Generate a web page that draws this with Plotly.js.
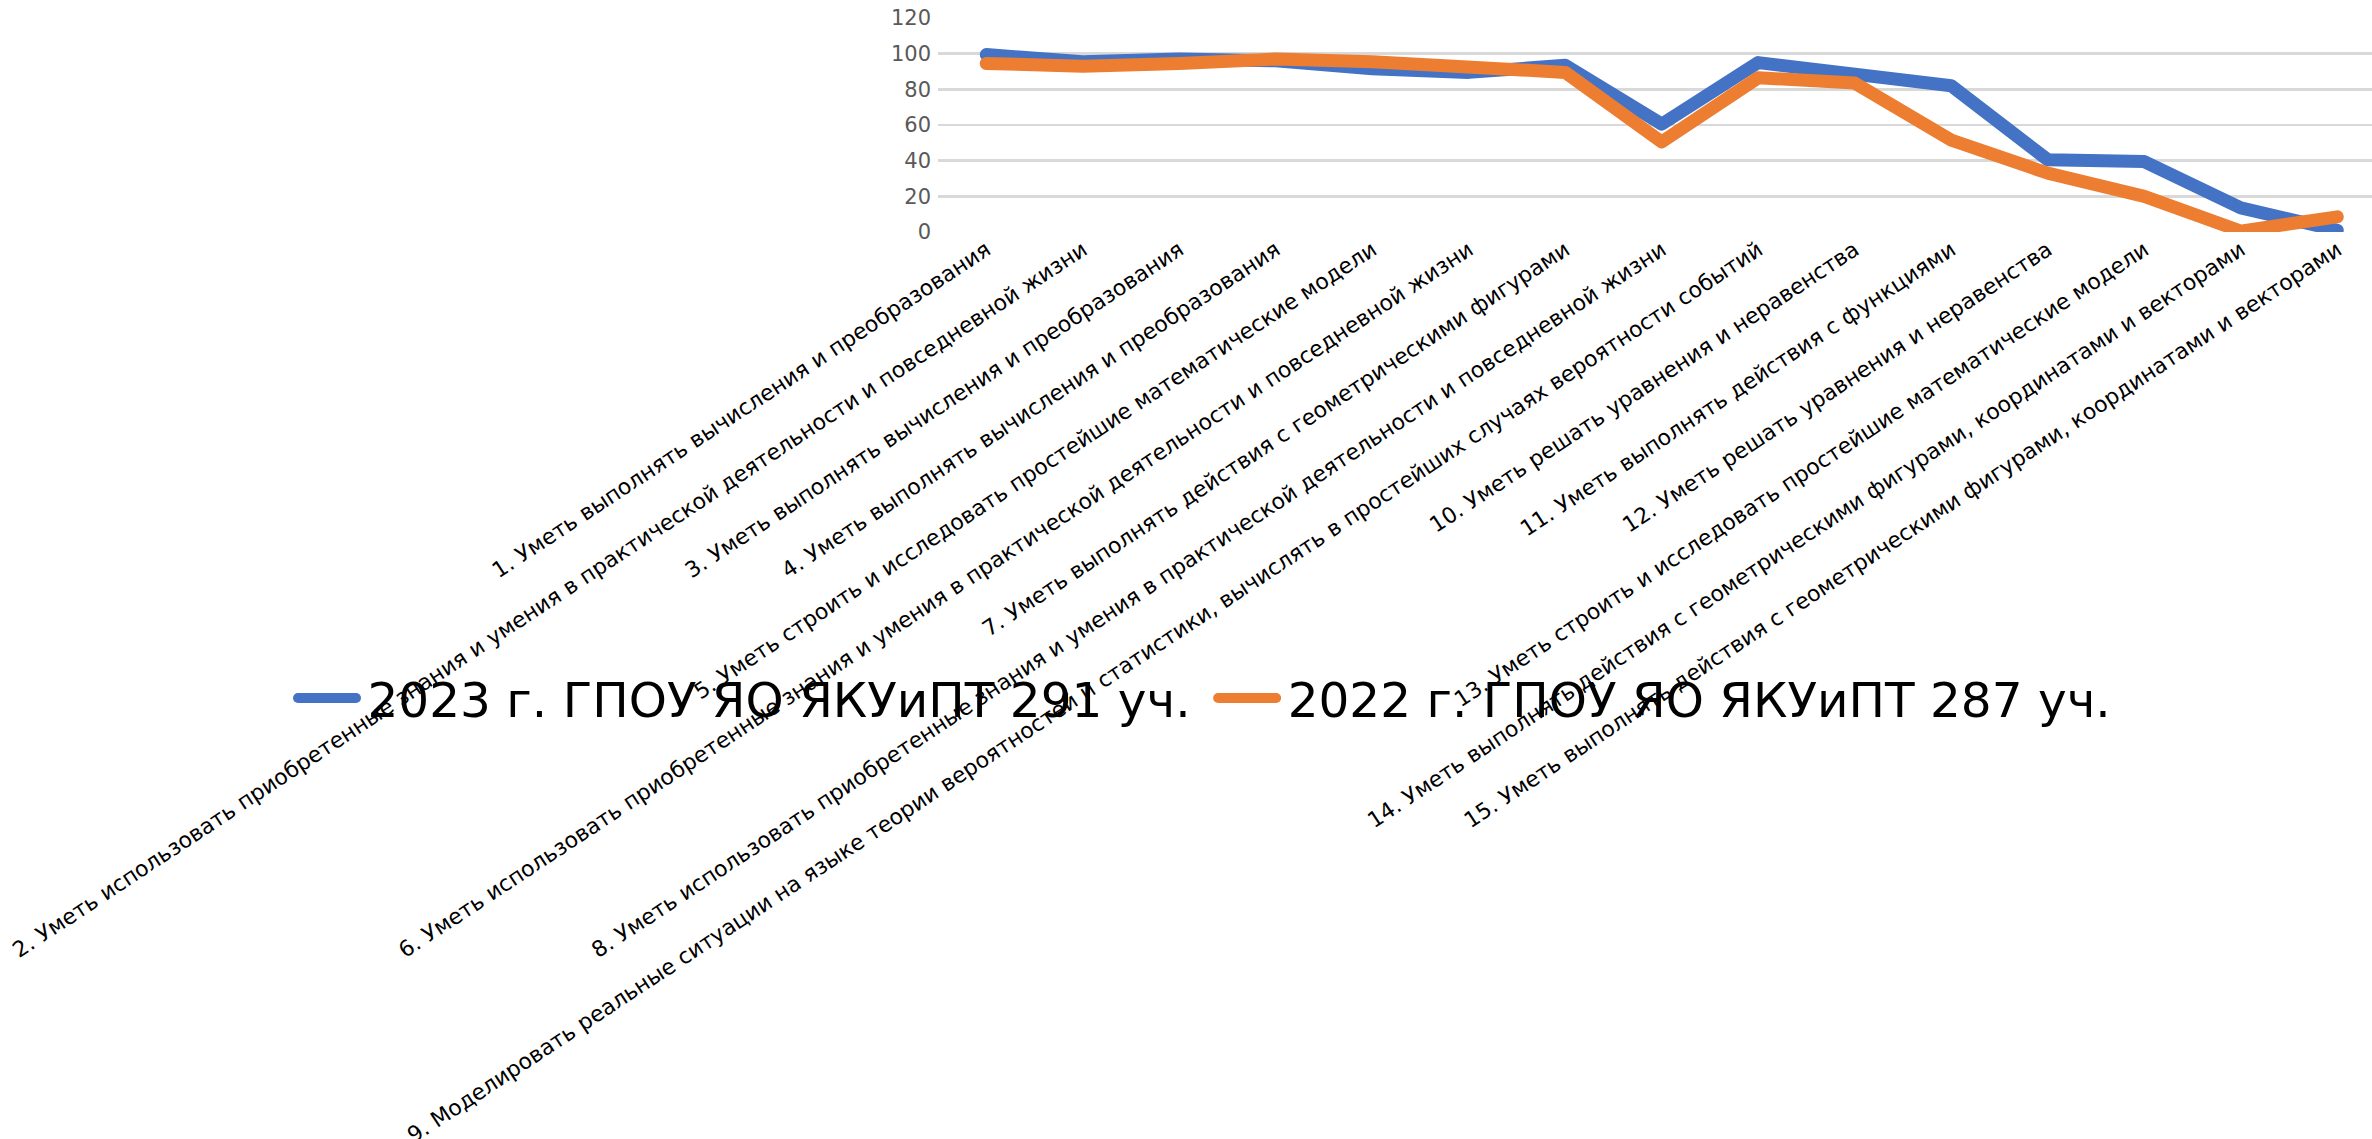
<!DOCTYPE html>
<html>
<head>
<meta charset="utf-8">
<script src="https://cdn.plot.ly/plotly-3.0.1.min.js"></script>
<style>
  html, body { margin: 0; padding: 0; background: #fff; }
  #chart { width: 2372px; height: 1139px; }
  .scatterlayer path.js-line, .legendlines path { stroke-linecap: round; stroke-linejoin: round; }
</style>
</head>
<body>
<div id="chart"></div>
<script>
const categories = [
  "1. Уметь выполнять вычисления и преобразования",
  "2. Уметь использовать приобретенные знания и умения в практической деятельности и повседневной жизни",
  "3. Уметь выполнять вычисления и преобразования",
  "4. Уметь выполнять вычисления и преобразования",
  "5. Уметь строить и исследовать простейшие математические модели",
  "6. Уметь использовать приобретенные знания и умения в практической деятельности и повседневной жизни",
  "7. Уметь выполнять действия с геометрическими фигурами",
  "8. Уметь использовать приобретенные знания и умения в практической деятельности и повседневной жизни",
  "9. Моделировать реальные ситуации на языке теории вероятностей и статистики, вычислять в простейших случаях вероятности событий",
  "10. Уметь решать уравнения и неравенства",
  "11. Уметь выполнять действия с функциями",
  "12. Уметь решать уравнения и неравенства",
  "13. Уметь строить и исследовать простейшие математические модели",
  "14. Уметь выполнять действия с геометрическими фигурами, координатами и векторами",
  "15. Уметь выполнять действия с геометрическими фигурами, координатами и векторами"
];
const series2023Name = "2023 г. ГПОУ ЯО ЯКУиПТ 291 уч.";
const series2023 = [99.5, 95.5, 97, 96, 91.5, 89.5, 93.5, 60.5, 95, 89, 82, 40.5, 39.5, 13.5, 1];
const series2022Name = "2022 г. ГПОУ ЯО ЯКУиПТ 287 уч.";
const series2022 = [94.5, 93, 94.5, 97, 95.5, 92.5, 89.5, 50.5, 86.5, 83.5, 51.5, 33, 20, 0.5, 8.5];
const yTicks = [0, 20, 40, 60, 80, 100, 120];

const idx = categories.map((_, i) => i);

const traces = [
  { x: idx, y: series2023, name: series2023Name, type: 'scatter', mode: 'lines',
    line: { color: '#4472C4', width: 13 } },
  { x: idx, y: series2022, name: series2022Name, type: 'scatter', mode: 'lines',
    line: { color: '#ED7D31', width: 13 } }
];

const layout = {
  width: 2372, height: 1139,
  paper_bgcolor: '#ffffff', plot_bgcolor: '#ffffff',
  margin: { l: 938, r: 0, t: 18, b: 907, pad: 0 },
  font: { family: 'DejaVu Sans, sans-serif', color: '#000' },
  showlegend: true,
  legend: {
    orientation: 'h', xref: 'paper', yref: 'paper',
    x: -0.462, y: -2, xanchor: 'left', yanchor: 'top',
    font: { size: 48.5, color: '#000', family: 'DejaVu Sans, sans-serif' },
    bgcolor: 'rgba(0,0,0,0)', itemwidth: 82, traceorder: 'normal'
  },
  xaxis: {
    type: 'linear', range: [-0.5, 14.36],
    tickmode: 'array', tickvals: idx, ticktext: categories,
    tickangle: -33.4, tickfont: { size: 21.9, color: '#000' },
    showgrid: false, zeroline: false, showline: false, ticks: '',
    fixedrange: true
  },
  yaxis: {
    range: [0, 120], tickmode: 'array', tickvals: yTicks,
    tickfont: { size: 21, color: '#595959' },
    showgrid: true, gridcolor: '#d9d9d9', gridwidth: 2.5,
    zeroline: false, showline: false, ticks: '', ticklabelstandoff: 6
  }
};

Plotly.newPlot('chart', traces, layout, { displayModeBar: false, staticPlot: true }).then(function (gd) {
  // lengthen the legend line samples so they reach up to the legend text
  gd.querySelectorAll('.legend .traces').forEach(function (tr) {
    const txt = tr.querySelector('text.legendtext');
    const line = tr.querySelector('.legendlines path');
    if (txt && line) {
      const tx = parseFloat(txt.getAttribute('x')) || 40;
      line.setAttribute('d', 'M' + (tx - 69.5) + ',0H' + (tx - 11.5));
    }
  });
});
</script>
</body>
</html>
